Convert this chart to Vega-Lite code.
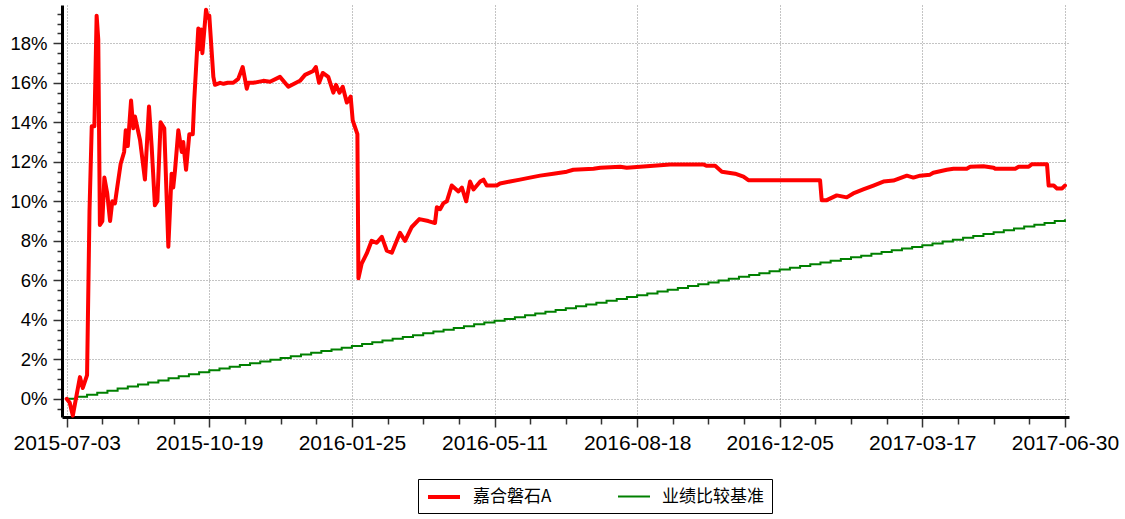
{
  "$schema": "https://vega.github.io/schema/vega-lite/v6.json",
  "autosize": "none",
  "width": 1007,
  "height": 412,
  "padding": {"left": 62, "top": 5, "right": 56, "bottom": 102},
  "background": "white",
  "datasets": {
    "fund": [
      {"i":0,"嘉合磐石A":0.0},{"i":1.5,"嘉合磐石A":-0.2},{"i":3,"嘉合磐石A":-0.85},{"i":6.5,"嘉合磐石A":1.1},{"i":7.9,"嘉合磐石A":0.55},{"i":10,"嘉合磐石A":1.2},{"i":11.2,"嘉合磐石A":9.5},{"i":12.3,"嘉合磐石A":13.8},{"i":13.6,"嘉合磐石A":13.8},{"i":14.7,"嘉合磐石A":19.4},{"i":15.5,"嘉合磐石A":18.2},{"i":16.3,"嘉合磐石A":8.8},{"i":17.5,"嘉合磐石A":9.0},{"i":18.5,"嘉合磐石A":11.2},{"i":19.9,"嘉合磐石A":10.4},{"i":21.3,"嘉合磐石A":9.0},{"i":22.4,"嘉合磐石A":10.0},{"i":23.7,"嘉合磐石A":9.9},{"i":24.8,"嘉合磐石A":10.7},{"i":26.5,"嘉合磐石A":11.9},{"i":28.2,"嘉合磐石A":12.5},{"i":29,"嘉合磐石A":13.6},{"i":30,"嘉合磐石A":12.8},{"i":31.6,"嘉合磐石A":15.1},{"i":32.7,"嘉合磐石A":13.7},{"i":33.5,"嘉合磐石A":14.3},{"i":36,"嘉合磐石A":13.1},{"i":38.4,"嘉合磐石A":11.1},{"i":40.4,"嘉合磐石A":14.8},{"i":41.7,"嘉合磐石A":12.8},{"i":43.3,"嘉合磐石A":9.8},{"i":44.5,"嘉合磐石A":10.0},{"i":46.1,"嘉合磐石A":14.0},{"i":47.9,"嘉合磐石A":13.7},{"i":49.9,"嘉合磐石A":7.7},{"i":51.5,"嘉合磐石A":11.4},{"i":52.3,"嘉合磐石A":10.7},{"i":53.2,"嘉合磐石A":11.6},{"i":54.8,"嘉合磐石A":13.6},{"i":56.5,"嘉合磐石A":12.5},{"i":57.2,"嘉合磐石A":13.0},{"i":58.6,"嘉合磐石A":11.6},{"i":60.2,"嘉合磐石A":13.4},{"i":61.9,"嘉合磐石A":13.4},{"i":62.6,"嘉合磐石A":15.1},{"i":64.6,"嘉合磐石A":18.75},{"i":65.1,"嘉合磐石A":17.7},{"i":66,"嘉合磐石A":18.7},{"i":66.6,"嘉合磐石A":17.5},{"i":68.4,"嘉合磐石A":19.7},{"i":69.2,"嘉合磐石A":19.3},{"i":70,"嘉合磐石A":19.4},{"i":72,"嘉合磐石A":16.3},{"i":72.8,"嘉合磐石A":15.9},{"i":75.3,"嘉合磐石A":16.0},{"i":77,"嘉合磐石A":15.95},{"i":79,"嘉合磐石A":16.0},{"i":81.8,"嘉合磐石A":16.0},{"i":84.2,"嘉合磐石A":16.2},{"i":86.4,"嘉合磐石A":16.8},{"i":88.4,"嘉合磐石A":15.7},{"i":89.2,"嘉合磐石A":16.0},{"i":91.6,"嘉合磐石A":16.0},{"i":96.5,"嘉合磐石A":16.1},{"i":99.8,"嘉合磐石A":16.05},{"i":104.7,"嘉合磐石A":16.3},{"i":108.8,"嘉合磐石A":15.8},{"i":114.5,"嘉合磐石A":16.1},{"i":117,"嘉合磐石A":16.4},{"i":121,"嘉合磐石A":16.6},{"i":122.3,"嘉合磐石A":16.8},{"i":123.9,"嘉合磐石A":16.0},{"i":125.7,"嘉合磐石A":16.5},{"i":128.4,"嘉合磐石A":16.3},{"i":130.9,"嘉合磐石A":15.5},{"i":132.2,"嘉合磐石A":15.9},{"i":133.9,"嘉合磐石A":15.5},{"i":135.5,"嘉合磐石A":15.8},{"i":137.5,"嘉合磐石A":15.0},{"i":139.4,"嘉合磐石A":15.3},{"i":140.4,"嘉合磐石A":14.1},{"i":142.7,"嘉合磐石A":13.4},{"i":143.2,"嘉合磐石A":6.1},{"i":144.8,"嘉合磐石A":6.85},{"i":147.3,"嘉合磐石A":7.36},{"i":149.7,"嘉合磐石A":8.0},{"i":152.2,"嘉合磐石A":7.9},{"i":154.7,"嘉合磐石A":8.2},{"i":157.1,"嘉合磐石A":7.5},{"i":159.6,"嘉合磐石A":7.4},{"i":162,"嘉合磐石A":8.0},{"i":163.6,"嘉合磐石A":8.4},{"i":166.1,"嘉合磐石A":8.0},{"i":169.4,"嘉合磐石A":8.7},{"i":173.1,"嘉合磐石A":9.1},{"i":177.5,"嘉合磐石A":9.0},{"i":180.8,"嘉合磐石A":8.9},{"i":181.7,"嘉合磐石A":9.7},{"i":183.3,"嘉合磐石A":9.6},{"i":184.9,"嘉合磐石A":9.9},{"i":186.6,"嘉合磐石A":10.0},{"i":189,"嘉合磐石A":10.8},{"i":192.3,"嘉合磐石A":10.5},{"i":194,"嘉合磐石A":10.7},{"i":196.1,"嘉合磐石A":10.0},{"i":198,"嘉合磐石A":11.0},{"i":199.7,"嘉合磐石A":10.6},{"i":203,"嘉合磐石A":11.0},{"i":204.6,"嘉合磐石A":11.1},{"i":206.2,"嘉合磐石A":10.8},{"i":211.1,"嘉合磐石A":10.8},{"i":212.7,"嘉合磐石A":10.9},{"i":217.6,"嘉合磐石A":11.0},{"i":222.5,"嘉合磐石A":11.1},{"i":227.4,"嘉合磐石A":11.2},{"i":232.4,"嘉合磐石A":11.3},{"i":238.9,"嘉合磐石A":11.4},{"i":245.5,"嘉合磐石A":11.5},{"i":248.7,"嘉合磐石A":11.6},{"i":258.6,"嘉合磐石A":11.65},{"i":261.9,"嘉合磐石A":11.7},{"i":271.7,"嘉合磐石A":11.75},{"i":274.9,"嘉合磐石A":11.7},{"i":281.5,"嘉合磐石A":11.75},{"i":296.2,"嘉合磐石A":11.87},{"i":312.5,"嘉合磐石A":11.87},{"i":314.2,"嘉合磐石A":11.8},{"i":318.3,"嘉合磐石A":11.8},{"i":321.6,"嘉合磐石A":11.5},{"i":328.1,"嘉合磐石A":11.4},{"i":332.2,"嘉合磐石A":11.25},{"i":334.6,"嘉合磐石A":11.07},{"i":369.8,"嘉合磐石A":11.07},{"i":370.6,"嘉合磐石A":10.06},{"i":373.1,"嘉合磐石A":10.06},{"i":378,"嘉合磐石A":10.3},{"i":382.9,"嘉合磐石A":10.2},{"i":386.1,"嘉合磐石A":10.4},{"i":391,"嘉合磐石A":10.6},{"i":396,"嘉合磐石A":10.8},{"i":400.9,"嘉合磐石A":11.0},{"i":405.8,"嘉合磐石A":11.05},{"i":412.4,"嘉合磐石A":11.3},{"i":415.6,"嘉合磐石A":11.2},{"i":418.9,"嘉合磐石A":11.3},{"i":423.8,"嘉合磐石A":11.35},{"i":425.4,"嘉合磐石A":11.45},{"i":432,"嘉合磐石A":11.6},{"i":435.3,"嘉合磐石A":11.65},{"i":441.8,"嘉合磐石A":11.65},{"i":443.5,"嘉合磐石A":11.75},{"i":450,"嘉合磐石A":11.78},{"i":455,"嘉合磐石A":11.7},{"i":455.8,"嘉合磐石A":11.65},{"i":465.6,"嘉合磐石A":11.65},{"i":467.3,"嘉合磐石A":11.75},{"i":472.2,"嘉合磐石A":11.75},{"i":473.8,"嘉合磐石A":11.88},{"i":481.2,"嘉合磐石A":11.88},{"i":482,"嘉合磐石A":10.8},{"i":484.5,"嘉合磐石A":10.8},{"i":486.1,"嘉合磐石A":10.65},{"i":488.6,"嘉合磐石A":10.65},{"i":490,"嘉合磐石A":10.8}
    ],
    "bench": [
      {"i":0,"业绩比较基准":0.0},{"i":5,"业绩比较基准":0.10},{"i":10,"业绩比较基准":0.21},{"i":15,"业绩比较基准":0.31},{"i":20,"业绩比较基准":0.41},{"i":25,"业绩比较基准":0.52},{"i":30,"业绩比较基准":0.62},{"i":35,"业绩比较基准":0.73},{"i":40,"业绩比较基准":0.83},{"i":45,"业绩比较基准":0.93},{"i":50,"业绩比较基准":1.04},{"i":55,"业绩比较基准":1.14},{"i":60,"业绩比较基准":1.24},{"i":65,"业绩比较基准":1.35},{"i":70,"业绩比较基准":1.45},
      {"i":75,"业绩比较基准":1.54},{"i":80,"业绩比较基准":1.63},{"i":85,"业绩比较基准":1.71},{"i":90,"业绩比较基准":1.80},{"i":95,"业绩比较基准":1.89},{"i":100,"业绩比较基准":1.98},{"i":105,"业绩比较基准":2.07},{"i":110,"业绩比较基准":2.15},{"i":115,"业绩比较基准":2.24},{"i":120,"业绩比较基准":2.33},{"i":125,"业绩比较基准":2.42},{"i":130,"业绩比较基准":2.50},{"i":135,"业绩比较基准":2.59},{"i":140,"业绩比较基准":2.68},
      {"i":145,"业绩比较基准":2.77},{"i":150,"业绩比较基准":2.86},{"i":155,"业绩比较基准":2.95},{"i":160,"业绩比较基准":3.04},{"i":165,"业绩比较基准":3.13},{"i":170,"业绩比较基准":3.22},{"i":175,"业绩比较基准":3.32},{"i":180,"业绩比较基准":3.41},{"i":185,"业绩比较基准":3.50},{"i":190,"业绩比较基准":3.59},{"i":195,"业绩比较基准":3.68},{"i":200,"业绩比较基准":3.77},{"i":205,"业绩比较基准":3.86},{"i":210,"业绩比较基准":3.95},
      {"i":215,"业绩比较基准":4.04},{"i":220,"业绩比较基准":4.13},{"i":225,"业绩比较基准":4.23},{"i":230,"业绩比较基准":4.32},{"i":235,"业绩比较基准":4.41},{"i":240,"业绩比较基准":4.50},{"i":245,"业绩比较基准":4.59},{"i":250,"业绩比较基准":4.69},{"i":255,"业绩比较基准":4.78},{"i":260,"业绩比较基准":4.87},{"i":265,"业绩比较基准":4.96},{"i":270,"业绩比较基准":5.06},{"i":275,"业绩比较基准":5.15},{"i":280,"业绩比较基准":5.24},
      {"i":285,"业绩比较基准":5.33},{"i":290,"业绩比较基准":5.43},{"i":295,"业绩比较基准":5.52},{"i":300,"业绩比较基准":5.61},{"i":305,"业绩比较基准":5.71},{"i":310,"业绩比较基准":5.80},{"i":315,"业绩比较基准":5.89},{"i":320,"业绩比较基准":5.99},{"i":325,"业绩比较基准":6.08},{"i":330,"业绩比较基准":6.18},{"i":335,"业绩比较基准":6.27},{"i":340,"业绩比较基准":6.36},{"i":345,"业绩比较基准":6.46},{"i":350,"业绩比较基准":6.55},
      {"i":355,"业绩比较基准":6.64},{"i":360,"业绩比较基准":6.73},{"i":365,"业绩比较基准":6.81},{"i":370,"业绩比较基准":6.90},{"i":375,"业绩比较基准":6.99},{"i":380,"业绩比较基准":7.08},{"i":385,"业绩比较基准":7.17},{"i":390,"业绩比较基准":7.25},{"i":395,"业绩比较基准":7.34},{"i":400,"业绩比较基准":7.43},{"i":405,"业绩比较基准":7.52},{"i":410,"业绩比较基准":7.61},{"i":415,"业绩比较基准":7.69},{"i":420,"业绩比较基准":7.78},
      {"i":425,"业绩比较基准":7.87},{"i":430,"业绩比较基准":7.97},{"i":435,"业绩比较基准":8.06},{"i":440,"业绩比较基准":8.15},{"i":445,"业绩比较基准":8.25},{"i":450,"业绩比较基准":8.34},{"i":455,"业绩比较基准":8.43},{"i":460,"业绩比较基准":8.53},{"i":465,"业绩比较基准":8.62},{"i":470,"业绩比较基准":8.72},{"i":475,"业绩比较基准":8.81},{"i":480,"业绩比较基准":8.90},{"i":485,"业绩比较基准":9.00},{"i":490,"业绩比较基准":9.09}
    ]
  },
  "encoding": {
    "x": {
      "field": "i", "type": "quantitative",
      "scale": {"domain": [-2.3, 492], "nice": false, "zero": false},
      "axis": {
        "title": null,
        "values": [0,17.5,35,52.5,70,87.5,105,122.5,140,157.5,175,192.5,210,227.5,245,262.5,280,297.5,315,332.5,350,367.5,385,402.5,420,437.5,455,472.5,490],
        "labelExpr": "datum.value % 70 == 0 ? ['2015-07-03','2015-10-19','2016-01-25','2016-05-11','2016-08-18','2016-12-05','2017-03-17','2017-06-30'][datum.value / 70] : ''",
        "grid": true,
        "gridOpacity": {"condition": {"test": "datum.value % 70 == 0", "value": 1}, "value": 0},
        "tickSize": {"condition": {"test": "datum.value % 70 == 0", "value": 10}, "value": 7},
        "labelFontSize": 21,
        "labelPadding": 5,
        "labelOverlap": false,
        "labelFlush": false,
        "labelBound": false
      }
    },
    "y": {
      "field": "v", "type": "quantitative",
      "scale": {"domain": [-0.92, 19.94], "nice": false, "zero": false},
      "axis": {
        "title": null,
        "values": [-0.5,0,0.5,1,1.5,2,2.5,3,3.5,4,4.5,5,5.5,6,6.5,7,7.5,8,8.5,9,9.5,10,10.5,11,11.5,12,12.5,13,13.5,14,14.5,15,15.5,16,16.5,17,17.5,18,18.5,19,19.5],
        "labelExpr": "datum.value % 2 == 0 ? datum.value + '%' : ''",
        "grid": true,
        "gridOpacity": {"condition": {"test": "datum.value % 2 == 0", "value": 1}, "value": 0},
        "tickSize": {"condition": {"test": "datum.value % 2 == 0", "value": 9}, "value": 5},
        "labelFontSize": 18.5,
        "labelPadding": 6,
        "labelOverlap": false,
        "labelFlush": false,
        "labelBound": false
      }
    },
    "color": {
      "field": "s", "type": "nominal",
      "scale": {"domain": ["嘉合磐石A", "业绩比较基准"], "range": ["#FF0000", "#008000"]},
      "legend": {
        "title": null,
        "orient": "none",
        "legendX": 356,
        "legendY": 474,
        "direction": "horizontal",
        "strokeColor": "black",
        "fillColor": "white",
        "padding": 8,
        "symbolType": "M-1,0H3",
        "symbolSize": 256,
        "symbolFillColor": "transparent",
        "labelFont": "Noto Sans CJK SC",
        "labelFontSize": 17,
        "labelColor": "black",
        "labelOffset": 27,
        "columnPadding": 62
      }
    },
    "strokeWidth": {
      "field": "s", "type": "nominal",
      "scale": {"domain": ["嘉合磐石A", "业绩比较基准"], "range": [4, 2]}
    }
  },
  "layer": [
    {
      "data": {"name": "bench"},
      "transform": [{"fold": ["业绩比较基准"], "as": ["s", "v"]}],
      "mark": {"type": "line", "interpolate": "step-after"}
    },
    {
      "data": {"name": "fund"},
      "transform": [{"fold": ["嘉合磐石A"], "as": ["s", "v"]}],
      "mark": {"type": "line", "strokeJoin": "round", "strokeCap": "round"}
    }
  ],
  "config": {
    "view": {"stroke": null},
    "axis": {
      "labelFont": "Liberation Sans",
      "labelColor": "black",
      "domainColor": "black",
      "domainWidth": 3,
      "tickColor": "#333333",
      "tickWidth": 1.5,
      "gridColor": "#888888",
      "gridDash": [1, 2],
      "gridWidth": 1
    }
  }
}
